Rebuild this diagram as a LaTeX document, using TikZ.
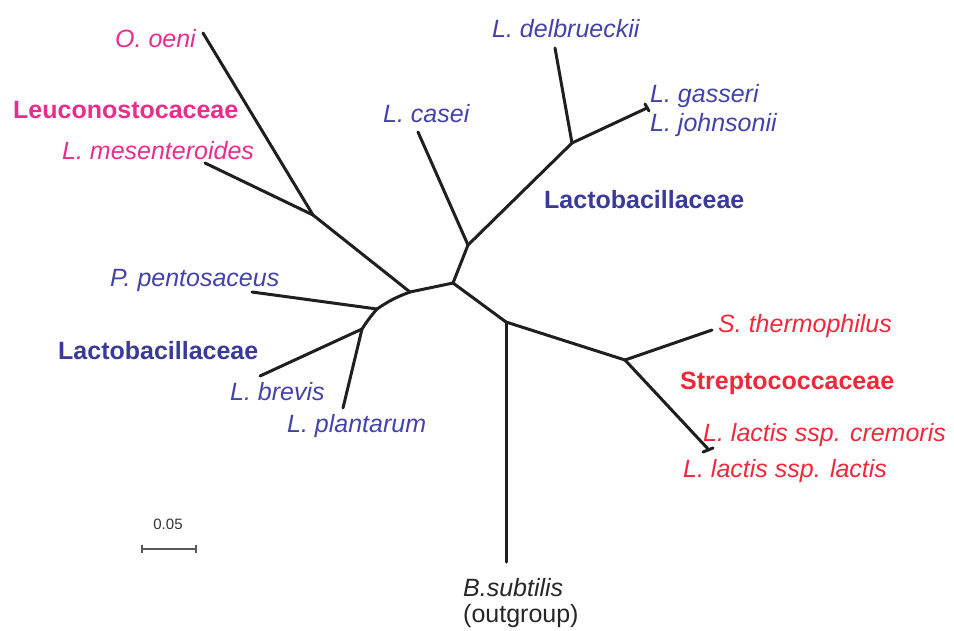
\documentclass[tikz,border=0pt]{standalone}
\usepackage{fontspec}
\setmainfont{Liberation Sans}
\definecolor{leuc}{RGB}{232,45,140}
\definecolor{lacb}{RGB}{66,66,172}
\definecolor{lacbold}{RGB}{58,58,152}
\definecolor{strp}{RGB}{240,40,58}
\begin{document}
\begin{tikzpicture}[x=1pt,y=-1pt,
  branch/.style={line width=3pt, draw=black!88, line cap=round, line join=round},
  taxon/.style={inner sep=0pt, anchor=base west, font=\fontsize{25}{30}\selectfont\itshape},
  family/.style={inner sep=0pt, anchor=base west, font=\fontsize{25}{30}\selectfont\bfseries},
  plain/.style={inner sep=0pt, anchor=base west, font=\fontsize{25}{30}\selectfont}]
\useasboundingbox (0,0) rectangle (954,630);
% internal nodes
\coordinate (A) at (410,292);
\coordinate (B) at (453,283);
\coordinate (C) at (506,322);
\coordinate (leucN) at (313,215);
\coordinate (caseiN) at (468,245);
\coordinate (delbN) at (572,143);
\coordinate (strepN) at (625,360);
\coordinate (pedN) at (377,309);
\coordinate (brevN) at (362,329);
% tips
\coordinate (oeniT) at (203,33);
\coordinate (mesT) at (205,163);
\coordinate (caseiT) at (418,132);
\coordinate (delbT) at (555,48);
\coordinate (gassT) at (647,108);
\coordinate (gassA) at (645,104);
\coordinate (gassB) at (649,111);
\coordinate (outT) at (506,562);
\coordinate (thermT) at (712,330);
\coordinate (lactT) at (709,450);
\coordinate (lactA) at (703,452);
\coordinate (lactB) at (713,448);
\coordinate (pentT) at (252,292);
\coordinate (brevT) at (260,376);
\coordinate (plantT) at (343,408);
% branches
\draw[branch] (A) -- (leucN);
\draw[branch] (leucN) -- (oeniT);
\draw[branch] (leucN) -- (mesT);
\draw[branch] (A) -- (B);
\draw[branch] (B) -- (caseiN);
\draw[branch] (caseiN) -- (caseiT);
\draw[branch] (caseiN) -- (delbN);
\draw[branch] (delbN) -- (delbT);
\draw[branch] (delbN) -- (gassT);
\draw[branch] (gassA) -- (gassB);
\draw[branch] (B) -- (C);
\draw[branch] (C) -- (outT);
\draw[branch] (C) -- (strepN);
\draw[branch] (strepN) -- (thermT);
\draw[branch] (strepN) -- (lactT);
\draw[branch] (lactA) -- (lactB);
\draw[branch] (A) to[bend right=7] (pedN);
\draw[branch] (pedN) to[bend right=4] (brevN);
\draw[branch] (pedN) -- (pentT);
\draw[branch] (brevN) -- (brevT);
\draw[branch] (brevN) -- (plantT);
% labels
\node[taxon, text=leuc] (oeni) at (115,47) {O. oeni};
\node[family, text=leuc] (leucfam) at (13,118) {Leuconostocaceae};
\node[taxon, text=leuc] (mes) at (62,159) {L. mesenteroides};
\node[taxon, text=lacb] (casei) at (383,122) {L. casei};
\node[taxon, text=lacb] (delb) at (492,37) {L. delbrueckii};
\node[taxon, text=lacb] (gass) at (650,102) {L. gasseri};
\node[taxon, text=lacb] (john) at (650,131) {L. johnsonii};
\node[family, text=lacbold] (lacfam1) at (544,208) {Lactobacillaceae};
\node[taxon, text=lacb] (pent) at (110,286) {P. pentosaceus};
\node[family, text=lacbold] (lacfam2) at (58,359) {Lactobacillaceae};
\node[taxon, text=lacb] (brev) at (230,400) {L. brevis};
\node[taxon, text=lacb] (plant) at (287,432) {L. plantarum};
\node[taxon, text=strp] (therm) at (718,332) {S. thermophilus};
\node[family, text=strp] (strfam) at (680,389) {Streptococcaceae};
\node[taxon, text=strp] (crem) at (703,441) {L. lactis ssp. cremoris};
\node[taxon, text=strp] (lact) at (683,477) {L. lactis ssp. lactis};
\node[taxon, text=black!85] (bsub) at (463,596) {B.subtilis};
\node[plain, text=black!85] (outg) at (463,622) {(outgroup)};
% scale bar
\coordinate (sbL) at (142,549);
\coordinate (sbR) at (196,549);
\draw[line width=1.5pt, draw=black!65] (sbL) -- (sbR);
\draw[line width=1.5pt, draw=black!65] ([yshift=-4pt]sbL) -- ([yshift=4pt]sbL);
\draw[line width=1.5pt, draw=black!65] ([yshift=-4pt]sbR) -- ([yshift=4pt]sbR);
\node[inner sep=0pt, font=\fontsize{15}{18}\selectfont, text=black!80] (sblab) at (168,524) {0.05};
\end{tikzpicture}
\end{document}
